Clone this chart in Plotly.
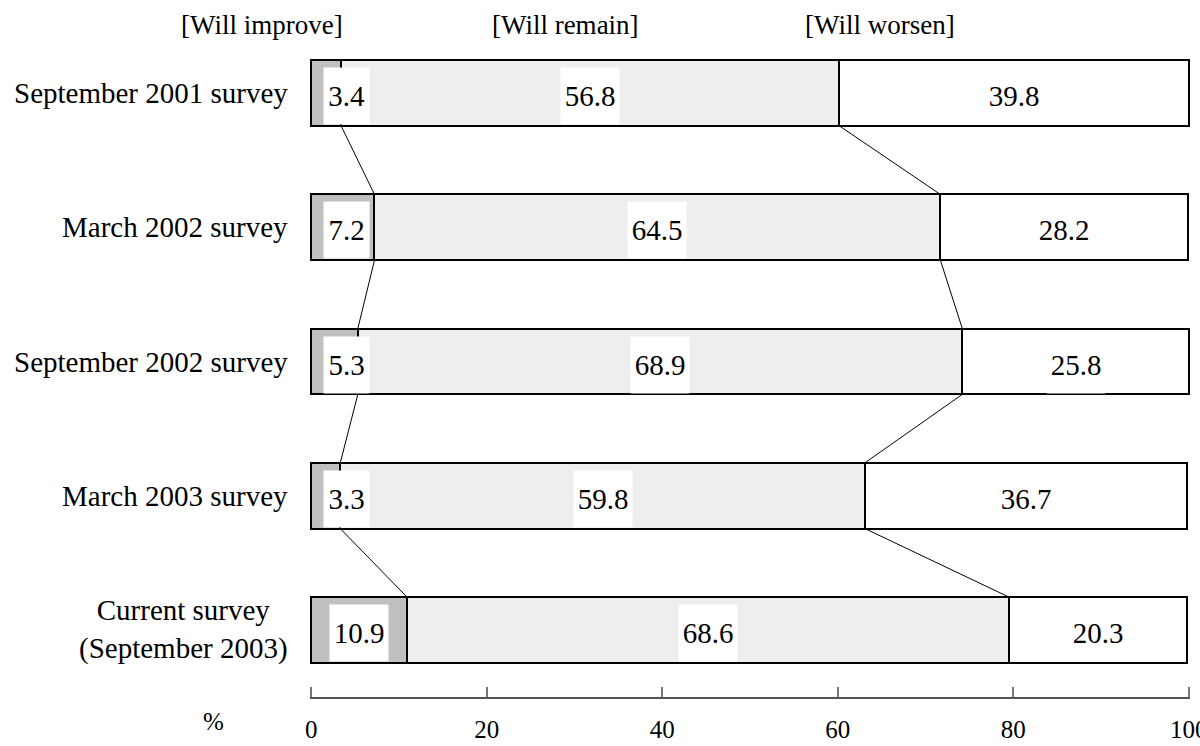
import plotly.graph_objects as go

categories = ["September 2001 survey", "March 2002 survey", "September 2002 survey",
              "March 2003 survey", "Current survey<br>(September 2003)"]
improve = [3.4, 7.2, 5.3, 3.3, 10.9]
remain = [56.8, 64.5, 68.9, 59.8, 68.6]
worsen = [39.8, 28.2, 25.8, 36.7, 20.3]
headers = ["[Will improve]", "[Will remain]", "[Will worsen]"]
x_ticks = [0, 20, 40, 60, 80, 100]

FONT = "Liberation Serif"
FS = 29
BAR_W = 0.49
ypos = list(range(len(categories)))

fig = go.Figure()
line = dict(color="black", width=2)
fig.add_trace(go.Bar(y=ypos, x=improve, orientation="h", width=BAR_W,
                     marker=dict(color="#c0c0c0", line=line), name=headers[0]))
fig.add_trace(go.Bar(y=ypos, x=remain, orientation="h", width=BAR_W,
                     marker=dict(color="#eeeeee", line=line), name=headers[1]))
fig.add_trace(go.Bar(y=ypos, x=worsen, orientation="h", width=BAR_W,
                     marker=dict(color="#ffffff", line=line), name=headers[2]))

annotations = []
shapes = []


def label(x, y, v):
    txt = f"{v:.1f}"
    annotations.append(dict(x=x, y=y, xref="x", yref="y", text=txt, showarrow=False,
                            font=dict(family=FONT, size=FS, color="black"),
                            bgcolor="white", width=13 * len(txt) + 6, height=56,
                            borderpad=0, yshift=-3))


for i, y in enumerate(ypos):
    a, b, c = improve[i], remain[i], worsen[i]
    label(max(a / 2, 4.0), y, a)
    label(a + b / 2, y, b)
    label(a + b + c / 2, y, c)
    annotations.append(dict(x=0, y=y, xref="paper", yref="y", text=categories[i],
                            showarrow=False, xanchor="right", align="center", xshift=-20,
                            font=dict(family=FONT, size=FS, color="black")))

# connector lines between consecutive bars
for i in range(len(ypos) - 1):
    b1 = [improve[i], improve[i] + remain[i]]
    b2 = [improve[i + 1], improve[i + 1] + remain[i + 1]]
    for p, q in zip(b1, b2):
        shapes.append(dict(type="line", xref="x", yref="y", x0=p, y0=ypos[i] + BAR_W / 2,
                           x1=q, y1=ypos[i + 1] - BAR_W / 2,
                           line=dict(color="black", width=1), layer="below"))

header_x = [-0.0545, 0.2898, 0.6477]
for hx, h in zip(header_x, headers):
    annotations.append(dict(x=hx, y=1.0015, xref="paper", yref="paper", text=h,
                            showarrow=False, xanchor="center", yanchor="middle",
                            font=dict(family=FONT, size=27, color="black")))
annotations.append(dict(x=-0.110, y=-0.037, xref="paper", yref="paper", text="%",
                        showarrow=False, xanchor="center", yanchor="middle",
                        font=dict(family=FONT, size=25, color="black")))

fig.update_layout(
    barmode="stack", width=1200, height=746, showlegend=False,
    margin=dict(l=310, r=10, t=26, b=49, autoexpand=False),
    plot_bgcolor="white", paper_bgcolor="white",
    annotations=annotations, shapes=shapes, bargap=0,
    font=dict(family=FONT, size=FS, color="black"),
)
fig.update_xaxes(range=[-0.15, 100.15], tickvals=x_ticks, ticktext=[str(t) for t in x_ticks],
                 showline=True, linecolor="#555555", linewidth=1.5, ticks="inside", ticklen=10,
                 tickcolor="#777777", tickwidth=1.5, showgrid=False, zeroline=False,
                 automargin=False, ticklabelstandoff=9, ticklabeloverflow="allow",
                 tickfont=dict(family=FONT, size=25, color="black"))
fig.update_yaxes(range=[4.5, -0.5], showticklabels=False, showgrid=False, zeroline=False,
                 showline=False, ticks="", automargin=False)

fig.write_html("out.html", post_script="document.body.style.margin='0';",
               config={"displayModeBar": False})
